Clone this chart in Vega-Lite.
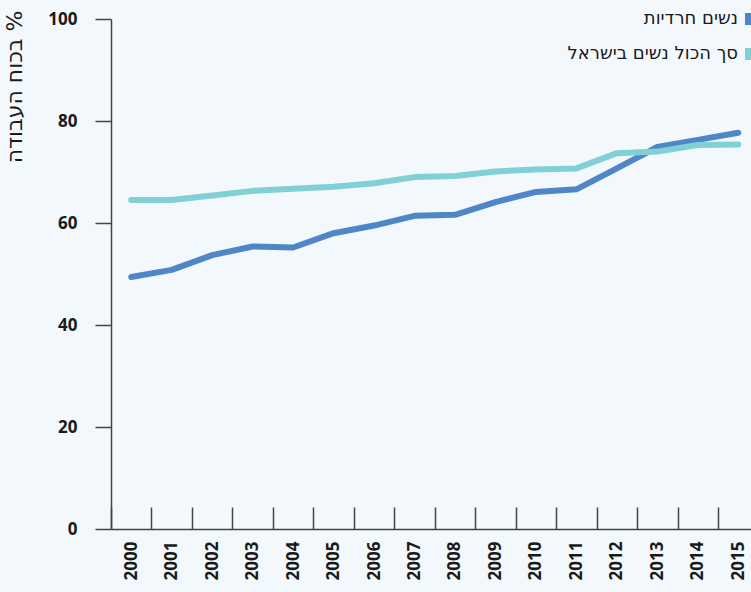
{
  "$schema": "https://vega.github.io/schema/vega-lite/v6.json",
  "width": 640,
  "height": 510,
  "autosize": {"type": "none"},
  "padding": {"left": 111, "top": 19, "right": 0, "bottom": 63},
  "background": "#f2f8fb",
  "config": {
    "view": {"stroke": null},
    "axis": {"labelFont": "Open Sans", "labelFontWeight": "bold", "labelColor": "#1a1a1a", "domainColor": "#444444", "tickColor": "#444444", "domainWidth": 1.5, "tickWidth": 1.5, "grid": false}
  },
  "data": {"values": [
    {"year": "2000", "series": "נשים חרדיות", "value": 49.4},
    {"year": "2001", "series": "נשים חרדיות", "value": 50.8},
    {"year": "2002", "series": "נשים חרדיות", "value": 53.7},
    {"year": "2003", "series": "נשים חרדיות", "value": 55.4},
    {"year": "2004", "series": "נשים חרדיות", "value": 55.2},
    {"year": "2005", "series": "נשים חרדיות", "value": 58.0},
    {"year": "2006", "series": "נשים חרדיות", "value": 59.5},
    {"year": "2007", "series": "נשים חרדיות", "value": 61.4},
    {"year": "2008", "series": "נשים חרדיות", "value": 61.6},
    {"year": "2009", "series": "נשים חרדיות", "value": 64.1},
    {"year": "2010", "series": "נשים חרדיות", "value": 66.1},
    {"year": "2011", "series": "נשים חרדיות", "value": 66.6},
    {"year": "2012", "series": "נשים חרדיות", "value": 70.7},
    {"year": "2013", "series": "נשים חרדיות", "value": 74.9},
    {"year": "2014", "series": "נשים חרדיות", "value": 76.3},
    {"year": "2015", "series": "נשים חרדיות", "value": 77.7},
    {"year": "2000", "series": "סך הכול נשים בישראל", "value": 64.5},
    {"year": "2001", "series": "סך הכול נשים בישראל", "value": 64.5},
    {"year": "2002", "series": "סך הכול נשים בישראל", "value": 65.4},
    {"year": "2003", "series": "סך הכול נשים בישראל", "value": 66.3},
    {"year": "2004", "series": "סך הכול נשים בישראל", "value": 66.7},
    {"year": "2005", "series": "סך הכול נשים בישראל", "value": 67.1},
    {"year": "2006", "series": "סך הכול נשים בישראל", "value": 67.8},
    {"year": "2007", "series": "סך הכול נשים בישראל", "value": 69.0},
    {"year": "2008", "series": "סך הכול נשים בישראל", "value": 69.2},
    {"year": "2009", "series": "סך הכול נשים בישראל", "value": 70.1},
    {"year": "2010", "series": "סך הכול נשים בישראל", "value": 70.5},
    {"year": "2011", "series": "סך הכול נשים בישראל", "value": 70.7},
    {"year": "2012", "series": "סך הכול נשים בישראל", "value": 73.7},
    {"year": "2013", "series": "סך הכול נשים בישראל", "value": 74.0},
    {"year": "2014", "series": "סך הכול נשים בישראל", "value": 75.3},
    {"year": "2015", "series": "סך הכול נשים בישראל", "value": 75.4}
  ]},
  "mark": {"type": "line", "strokeWidth": 6, "strokeCap": "round", "strokeJoin": "round"},
  "encoding": {
    "x": {
      "field": "year", "type": "ordinal", "bandPosition": 0.5,
      "scale": {"type": "band", "paddingInner": 0, "paddingOuter": 0, "range": [0, 647.5]},
      "axis": {"title": null, "labelAngle": -90, "labelAlign": "right", "labelBaseline": "middle", "labelFontSize": 17, "labelPadding": 34, "tickBand": "extent", "tickSize": -22}
    },
    "y": {
      "field": "value", "type": "quantitative",
      "scale": {"domain": [0, 100], "nice": false},
      "axis": {"values": [0, 20, 40, 60, 80, 100], "tickSize": 16, "labelPadding": 18, "labelFontSize": 17,
        "title": "בכוח העבודה %", "titleFont": "DejaVu Sans", "titleFontSize": 22, "titleFontWeight": "normal", "titleColor": "#1a1a1a",
        "titleAngle": -90, "titleAlign": "right", "titleBaseline": "middle", "titleX": -97, "titleY": -9}
    },
    "color": {
      "field": "series", "type": "nominal",
      "scale": {"domain": ["נשים חרדיות", "סך הכול נשים בישראל"], "range": ["#4e86c8", "#80d0d4"]},
      "legend": {"title": null, "orient": "none", "legendX": 631, "legendY": -9, "symbolType": "square", "symbolSize": 144, "symbolOpacity": 1,
        "labelAlign": "right", "labelOffset": -22, "labelFont": "DejaVu Sans", "labelFontSize": 18, "labelColor": "#1a1a1a", "rowPadding": 17, "labelLimit": 400,
        "encode": {"symbols": {"update": {"fill": {"scale": "color", "field": "value"}, "strokeWidth": {"value": 0}}}}}
    }
  }
}
